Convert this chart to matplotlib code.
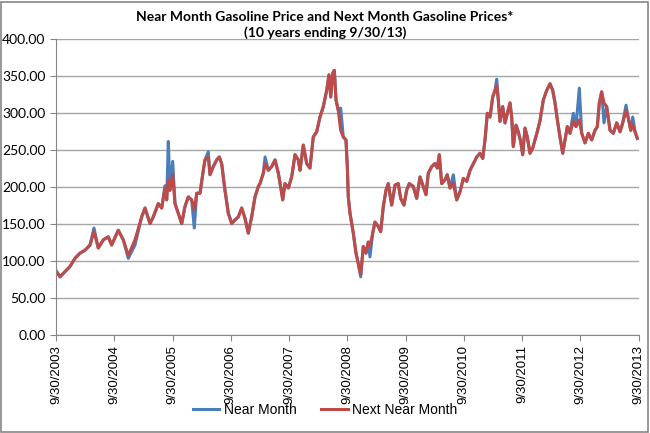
import matplotlib
matplotlib.use("Agg")
import matplotlib.pyplot as plt
from matplotlib.patches import Rectangle
from matplotlib.ticker import FuncFormatter

# decimal years (9/30/2003 = 2003.747)
years = [
    2003.759, 2003.816, 2003.902, 2003.987, 2004.073, 2004.159, 2004.245, 2004.331, 2004.399, 2004.473,
    2004.559, 2004.645, 2004.703, 2004.816, 2004.902, 2004.988, 2005.103, 2005.218, 2005.275, 2005.361,
    2005.417, 2005.503, 2005.562, 2005.618, 2005.647, 2005.675, 2005.704, 2005.750, 2005.790, 2005.846,
    2005.905, 2005.961, 2006.018, 2006.076, 2006.121, 2006.162, 2006.219, 2006.276, 2006.305, 2006.361,
    2006.391, 2006.447, 2006.506, 2006.550, 2006.591, 2006.648, 2006.705, 2006.763, 2006.820, 2006.877,
    2006.935, 2006.992, 2007.048, 2007.106, 2007.163, 2007.220, 2007.249, 2007.306, 2007.336, 2007.392,
    2007.450, 2007.507, 2007.564, 2007.622, 2007.639, 2007.678, 2007.735, 2007.793, 2007.850, 2007.907,
    2007.936, 2007.992, 2008.051, 2008.107, 2008.164, 2008.222, 2008.279, 2008.336, 2008.394, 2008.433,
    2008.463, 2008.497, 2008.525, 2008.554, 2008.593, 2008.634, 2008.679, 2008.725, 2008.748, 2008.765,
    2008.794, 2008.851, 2008.897, 2008.936, 2008.978, 2009.022, 2009.069, 2009.108, 2009.137, 2009.184,
    2009.223, 2009.280, 2009.321, 2009.366, 2009.412, 2009.451, 2009.510, 2009.567, 2009.623, 2009.664,
    2009.721, 2009.767, 2009.812, 2009.881, 2009.939, 2009.996, 2010.052, 2010.099, 2010.138, 2010.197,
    2010.253, 2010.293, 2010.327, 2010.368, 2010.425, 2010.464, 2010.511, 2010.568, 2010.626, 2010.683,
    2010.740, 2010.798, 2010.855, 2010.912, 2010.970, 2011.026, 2011.073, 2011.112, 2011.152, 2011.198,
    2011.244, 2011.284, 2011.313, 2011.340, 2011.369, 2011.416, 2011.455, 2011.495, 2011.541, 2011.570,
    2011.597, 2011.644, 2011.683, 2011.724, 2011.759, 2011.798, 2011.838, 2011.884, 2011.931, 2011.970,
    2012.009, 2012.056, 2012.113, 2012.171, 2012.228, 2012.274, 2012.314, 2012.354, 2012.399, 2012.446,
    2012.485, 2012.525, 2012.571, 2012.628, 2012.674, 2012.731, 2012.772, 2012.829, 2012.886, 2012.944,
    2013.000, 2013.040, 2013.074, 2013.115, 2013.155, 2013.201, 2013.258, 2013.315, 2013.373, 2013.430,
    2013.476, 2013.533, 2013.573, 2013.614, 2013.648, 2013.687, 2013.727,
]

next_month = [
    86, 79, 86, 93, 104, 111, 115, 122, 140, 118,
    129, 133, 122, 142, 129, 108, 129, 160, 172, 151,
    160, 178, 172, 199, 183, 210, 196, 217, 178, 165,
    151, 174, 187, 183, 169, 192, 192, 223, 237, 241,
    217, 228, 237, 241, 232, 196, 165, 151, 156, 160,
    172, 158, 138, 160, 187, 201, 205, 219, 232, 223,
    228, 237, 219, 192, 183, 205, 199, 214, 244, 237,
    223, 257, 232, 226, 268, 275, 295, 309, 331, 352,
    322, 354, 358, 318, 304, 277, 268, 264, 228, 187,
    165, 138, 111, 97, 82, 120, 111, 126, 120, 138,
    153, 147, 140, 174, 196, 205, 176, 203, 205, 185,
    176, 196, 205, 201, 185, 214, 201, 190, 219, 228,
    232, 226, 244, 205, 210, 217, 199, 205, 183, 194,
    212, 208, 223, 232, 241, 246, 239, 264, 300, 295,
    322, 331, 338, 318, 289, 309, 287, 300, 314, 295,
    255, 284, 275, 262, 244, 280, 268, 246, 253, 264,
    275, 290, 318, 331, 340, 331, 314, 291, 268, 246,
    264, 282, 273, 289, 282, 291, 273, 260, 273, 264,
    277, 282, 314, 329, 314, 309, 277, 273, 287, 275,
    287, 304, 293, 277, 285, 275, 266,
]

near_month = [
    86, 79, 86, 93, 104, 111, 115, 122, 145, 118,
    129, 133, 122, 142, 129, 104, 122, 160, 172, 151,
    160, 178, 172, 202, 183, 262, 196, 235, 178, 165,
    151, 174, 187, 183, 145, 192, 192, 223, 237, 248,
    217, 228, 237, 241, 232, 196, 165, 151, 156, 160,
    172, 158, 138, 160, 187, 201, 205, 219, 241, 223,
    228, 237, 219, 192, 183, 205, 199, 214, 244, 237,
    223, 257, 232, 226, 268, 275, 295, 309, 331, 352,
    322, 354, 358, 318, 304, 307, 268, 264, 228, 187,
    165, 138, 111, 97, 79, 120, 111, 126, 106, 138,
    153, 147, 140, 174, 196, 205, 176, 203, 205, 185,
    176, 196, 205, 201, 185, 214, 201, 190, 219, 228,
    232, 226, 244, 205, 210, 217, 199, 217, 183, 194,
    212, 208, 223, 232, 241, 246, 239, 264, 300, 295,
    322, 331, 346, 318, 289, 309, 287, 300, 314, 295,
    255, 284, 275, 262, 244, 280, 268, 246, 253, 264,
    275, 290, 318, 331, 340, 331, 314, 291, 268, 246,
    264, 282, 273, 300, 282, 334, 273, 260, 273, 264,
    277, 282, 314, 329, 287, 309, 277, 273, 287, 275,
    287, 311, 293, 277, 295, 275, 266,
]

tick_years = [2003.747 + k for k in range(11)]
tick_labels = ["9/30/%d" % (2003 + k) for k in range(11)]

blue = "#4A7EBB"
red = "#BE4B48"
grid_gray = "#A6A6A6"
body_font = ["Lato", "DejaVu Sans"]
narrow_font = ["Liberation Sans Narrow", "Liberation Sans", "DejaVu Sans"]

fig = plt.figure(figsize=(6.5, 4.33), dpi=100)
ax = fig.add_axes([56 / 650, 1 - 335.3 / 433, 582.5 / 650, 296 / 433])

ax.plot(years, near_month, color=blue, lw=2.2, label="Near Month", solid_joinstyle="round")
ax.plot(years, next_month, color=red, lw=2.2, label="Next Near Month", solid_joinstyle="round")

ax.set_xlim(2003.747, 2013.747)
ax.set_ylim(0, 400)
ax.set_yticks(range(0, 401, 50))
ax.yaxis.set_major_formatter(FuncFormatter(lambda v, p: "%.2f" % v))
ax.set_xticks(tick_years)
ax.set_xticklabels(tick_labels, rotation=90, family=narrow_font, fontsize=9.5)
for lbl in ax.get_yticklabels():
    lbl.set_family(body_font)
    lbl.set_fontsize(10)

ax.grid(axis="y", color=grid_gray, lw=1)
ax.set_axisbelow(True)
for s in ["top", "right"]:
    ax.spines[s].set_visible(False)
for s in ["left", "bottom"]:
    ax.spines[s].set_color("#868686")
ax.tick_params(axis="both", colors="#868686", length=4, labelcolor="black")
ax.tick_params(axis="x", pad=3)

fig.text(0.5, 1 - 25 / 433, "Near Month Gasoline Price and Next Month Gasoline Prices*\n(10 years ending 9/30/13)",
         ha="center", va="center", fontsize=10, fontweight="bold", family=body_font, linespacing=1.3)

leg = fig.legend(loc="center", bbox_to_anchor=(0.5, 1 - 410 / 433), ncol=2, frameon=False,
                 prop={"family": narrow_font, "size": 10}, handlelength=1.9, columnspacing=1.8,
                 handletextpad=0.3)

fig.patches.append(Rectangle((0.002, 0.003), 0.995, 0.993, transform=fig.transFigure,
                             fill=False, edgecolor="#868686", lw=1.2))

fig.savefig("out.png", dpi=100)
